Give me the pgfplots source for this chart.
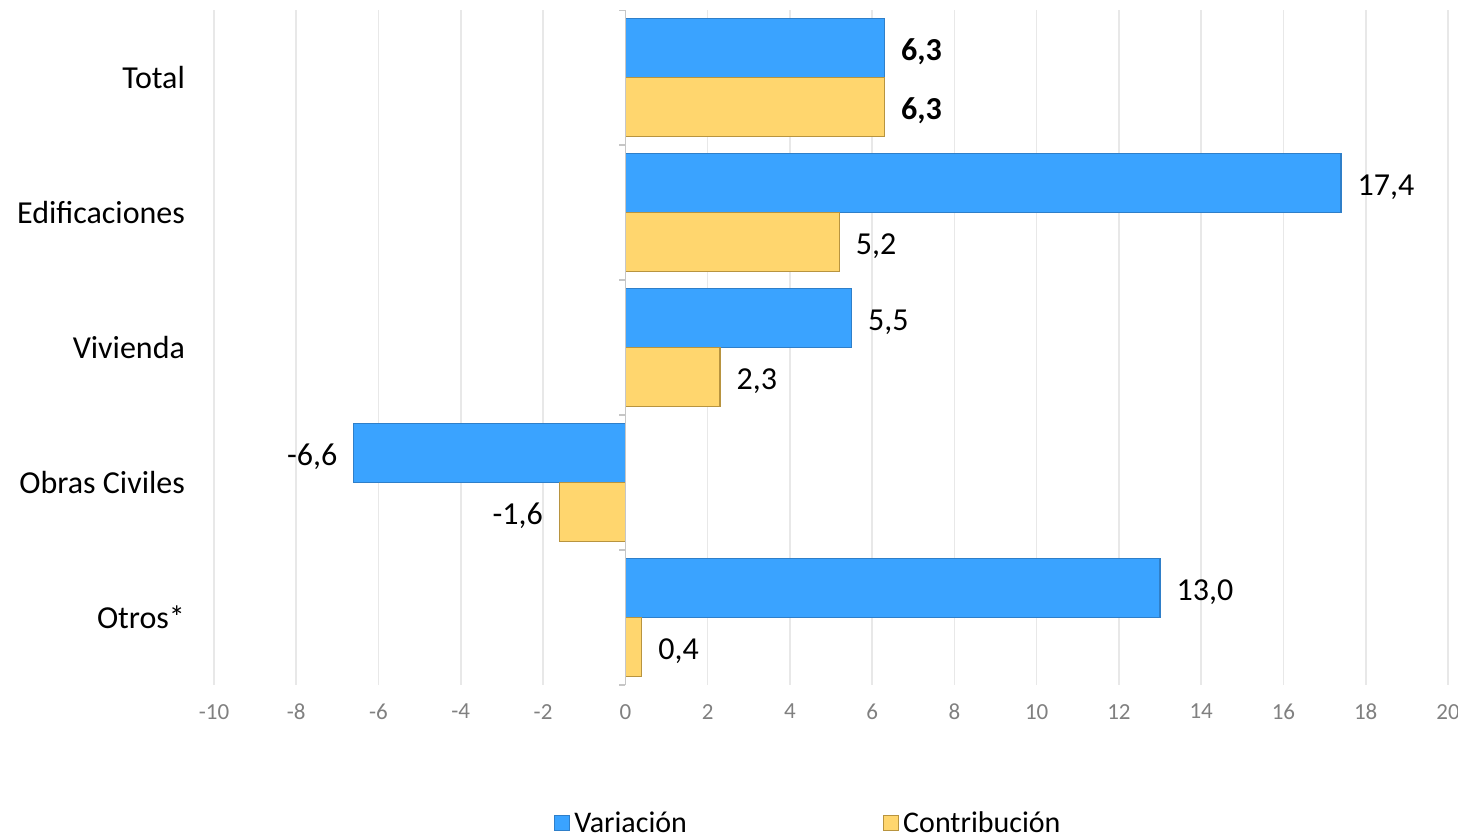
\documentclass[border=0pt]{standalone}
\usepackage{fontspec}
\setmainfont{Carlito}
\usepackage{pgfplots}
\pgfplotsset{compat=1.18}
\definecolor{varblue}{HTML}{3AA3FF}
\definecolor{varedge}{HTML}{2F7FC9}
\definecolor{conyel}{HTML}{FFD66E}
\definecolor{conedge}{HTML}{B8943F}
\definecolor{ticktxt}{HTML}{808080}
\begin{document}
\begin{tikzpicture}
\path[use as bounding box] (0,0) rectangle (729pt,418.5pt);
\begin{axis}[
  at={(107pt,76pt)}, anchor=south west,
  scale only axis, width=617pt, height=337.5pt,
  xbar, bar width=29.5pt,
  xmin=-10, xmax=20, ymin=-0.5, ymax=4.5,
  y dir=reverse,
  xtick={-10,-8,...,20},
  ytick={0,1,2,3,4},
  yticklabels={Total,Edificaciones,Vivienda,Obras Civiles,Otros*},
  axis line style={draw=none},
  major tick length=0pt,
  xmajorgrids, grid style={gray!18, line width=0.8pt},
  /pgf/number format/assume math mode=true,
  xticklabel style={font=\fontsize{11.5}{13}\selectfont, text=ticktxt, yshift=-6pt},
  yticklabel style={font=\fontsize{16}{19}\selectfont, xshift=-11pt},
  point meta=explicit symbolic,
  nodes near coords,
  visualization depends on=rawx \as \rawx,
  every node near coord/.append style={font=\fontsize{16}{19}\selectfont, text=black, inner xsep=8pt, yshift=-2pt},
  every node near coord/.append code={\ifdim\rawx pt<0pt\relax\pgfkeysalso{anchor=east}\else\pgfkeysalso{anchor=west}\fi},
  legend columns=2,
  legend style={at={(0.4825,-0.205)}, anchor=center, draw=none, fill=none,
    font=\fontsize{15}{18}\selectfont, /tikz/every even column/.append style={column sep=96pt}},
  legend image code/.code={\fill[#1] (-1.5pt,-3.75pt) rectangle (6pt,3.75pt);},
]
\addplot[fill=varblue, draw=varedge, line width=0.6pt, bar shift=14.75pt] coordinates {
  (6.3,0) [\textbf{6,3}]
  (17.4,1) [17,4]
  (5.5,2) [5,5]
  (-6.6,3) [-6,6]
  (13.0,4) [13,0]
};
\addlegendentry{Variación}
\addplot[fill=conyel, draw=conedge, line width=0.6pt, bar shift=-14.75pt] coordinates {
  (6.3,0) [\textbf{6,3}]
  (5.2,1) [5,2]
  (2.3,2) [2,3]
  (-1.6,3) [-1,6]
  (0.4,4) [0,4]
};
\addlegendentry{Contribución}
\draw[gray!45, line width=0.8pt] (axis cs:0,-0.5) -- (axis cs:0,4.5);
\pgfplotsinvokeforeach{-0.5,0.5,1.5,2.5,3.5,4.5}{
  \draw[gray!45, line width=0.8pt] (axis cs:0,#1) -- ([xshift=-3pt]axis cs:0,#1);
}
\end{axis}
\end{tikzpicture}
\end{document}
